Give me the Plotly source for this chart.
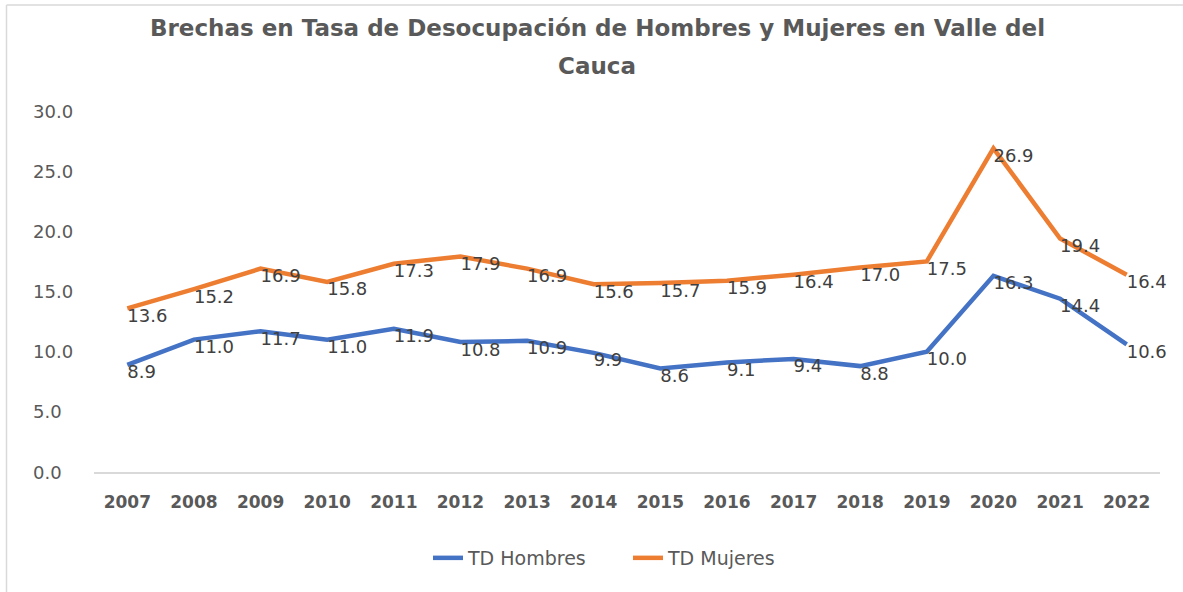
import plotly.graph_objects as go

years = ["2007", "2008", "2009", "2010", "2011", "2012", "2013", "2014",
         "2015", "2016", "2017", "2018", "2019", "2020", "2021", "2022"]
td_hombres = [8.9, 11.0, 11.7, 11.0, 11.9, 10.8, 10.9, 9.9,
              8.6, 9.1, 9.4, 8.8, 10.0, 16.3, 14.4, 10.6]
td_mujeres = [13.6, 15.2, 16.9, 15.8, 17.3, 17.9, 16.9, 15.6,
              15.7, 15.9, 16.4, 17.0, 17.5, 26.9, 19.4, 16.4]
y_ticks = [0, 5, 10, 15, 20, 25, 30]

W, H = 1183, 592
L, R, T, B = 94, 1160, 111, 472

def px_x(p):
    return (p - L) / (R - L)

def px_y(p):
    return (B - p) / (B - T)

FONT = "DejaVu Sans"
label_font = dict(family=FONT, size=18, color="#404040")

fig = go.Figure()
fig.add_trace(go.Scatter(
    x=years, y=td_hombres, name="TD Hombres", mode="lines+text",
    line=dict(color="#4472C4", width=4.5),
    text=[f"{v:.1f}" for v in td_hombres], textposition="bottom right",
    textfont=label_font, cliponaxis=False,
))
fig.add_trace(go.Scatter(
    x=years, y=td_mujeres, name="TD Mujeres", mode="lines+text",
    line=dict(color="#ED7D31", width=4.5),
    text=[f"{v:.1f}" for v in td_mujeres], textposition="bottom right",
    textfont=label_font, cliponaxis=False,
))

title_font = dict(family=FONT, size=23, color="#595959")
annotations = [
    dict(text="<b>Brechas en Tasa de Desocupación de Hombres y Mujeres en Valle del</b>",
         xref="paper", yref="paper", x=px_x(597), y=px_y(28),
         xanchor="center", yanchor="middle", showarrow=False, font=title_font),
    dict(text="<b>Cauca</b>",
         xref="paper", yref="paper", x=px_x(597), y=px_y(66),
         xanchor="center", yanchor="middle", showarrow=False, font=title_font),
]
# left-aligned value axis labels
for t in y_ticks:
    annotations.append(dict(
        text=f"{t:.1f}", xref="paper", yref="y", x=px_x(31), y=t,
        xanchor="left", yanchor="middle", showarrow=False,
        font=dict(family=FONT, size=18, color="#595959")))

shapes = [
    dict(type="line", xref="paper", yref="paper",
         x0=px_x(6.5), x1=px_x(6.5), y0=px_y(5), y1=px_y(600),
         line=dict(color="#D9D9D9", width=1.5)),
    dict(type="line", xref="paper", yref="paper",
         x0=px_x(6.5), x1=px_x(1190), y0=px_y(5), y1=px_y(5),
         line=dict(color="#D9D9D9", width=1.5)),
]

fig.update_layout(
    width=W, height=H,
    margin=dict(l=L, r=W - R, t=T, b=H - B, pad=0),
    paper_bgcolor="white", plot_bgcolor="white",
    showlegend=True,
    legend=dict(orientation="h", x=px_x(428), xanchor="left",
                y=px_y(558), yanchor="middle",
                font=dict(family=FONT, size=19, color="#595959"),
                itemwidth=30, entrywidth=155, tracegroupgap=0),
    xaxis=dict(type="category", range=[-0.5, 15.5], showgrid=False,
               showline=True, linecolor="#D9D9D9", linewidth=1.5,
               ticks="", ticklabelstandoff=14,
               tickfont=dict(family=FONT, size=17, color="#595959",
                             weight="bold")),
    yaxis=dict(range=[0, 30], showgrid=False, zeroline=False,
               showticklabels=False, tickvals=y_ticks),
    annotations=annotations,
    shapes=shapes,
)

fig.write_html("out.html")
